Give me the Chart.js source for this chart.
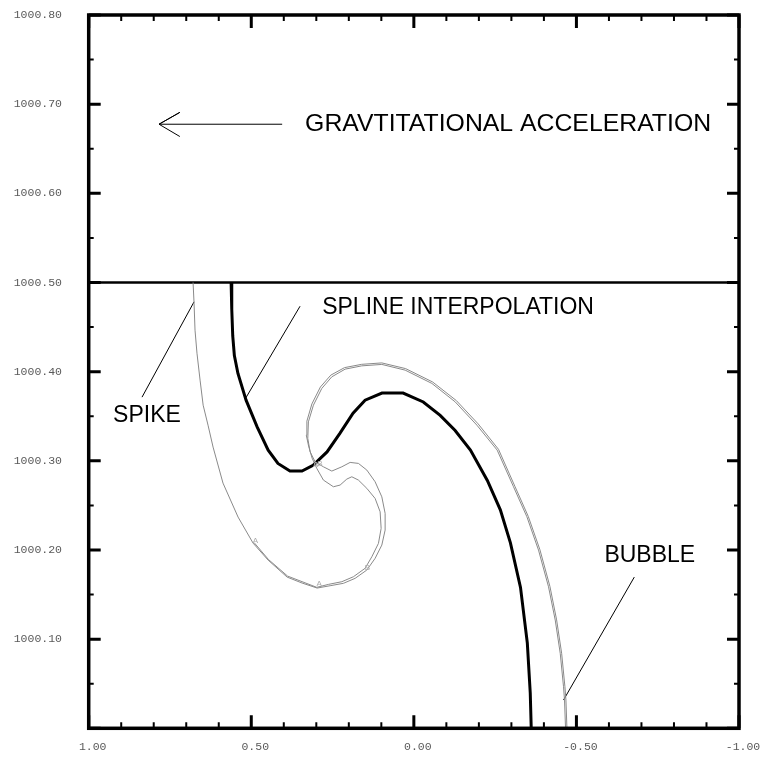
<!DOCTYPE html>
<html>
<head>
<meta charset="utf-8">
<script src="https://cdn.jsdelivr.net/npm/chart.js@4/dist/chart.umd.min.js"></script>
<style>
  html, body { margin: 0; padding: 0; background: #fff; }
  canvas { display: block; }
</style>
</head>
<body>
<canvas id="chart" width="762" height="758"></canvas>
<script>
// axis ticks
const xTickValues = [1, 0.5, 0, -0.5, -1];
const xTickLabels = ['1.00', '0.50', '0.00', '-0.50', '-1.00'];
const yTickValues = [1000.1, 1000.2, 1000.3, 1000.4, 1000.5, 1000.6, 1000.7, 1000.8];
const yTickLabels = ['1000.10', '1000.20', '1000.30', '1000.40', '1000.50', '1000.60', '1000.70', '1000.80'];

// initial flat interface
const interfaceX = [1, -1];
const interfaceY = [1000.5, 1000.5];

// spline interpolated interface (thick black)
const splineX = [0.562, 0.560, 0.557, 0.552, 0.541, 0.516, 0.482, 0.448, 0.418, 0.381, 0.344, 0.310, 0.267, 0.227, 0.187, 0.150, 0.098, 0.033, -0.029, -0.081, -0.127, -0.174, -0.226, -0.266, -0.297, -0.328, -0.349, -0.358, -0.361];
const splineY = [1000.500, 1000.470, 1000.440, 1000.418, 1000.398, 1000.368, 1000.338, 1000.312, 1000.297, 1000.2885, 1000.2885, 1000.295, 1000.310, 1000.331, 1000.3535, 1000.368, 1000.376, 1000.376, 1000.366, 1000.351, 1000.334, 1000.312, 1000.278, 1000.245, 1000.208, 1000.158, 1000.0956, 1000.0396, 1000.0];

// spike / bubble front, outer contour
const frontX = [0.679, 0.676, 0.673, 0.667, 0.6575, 0.648, 0.633, 0.6175, 0.587, 0.5406, 0.4945, 0.4483, 0.3898, 0.3437, 0.2975, 0.2575, 0.2166, 0.1806, 0.1446, 0.1191, 0.0985, 0.0883, 0.0883, 0.0985, 0.1191, 0.1446, 0.1705, 0.196, 0.2215, 0.2523, 0.2782, 0.3037, 0.3191, 0.3262, 0.3243, 0.3089, 0.2831, 0.2523, 0.2114, 0.16, 0.0985, 0.0268, -0.0554, -0.1271, -0.1938, -0.2563, -0.3065, -0.3477, -0.3834, -0.4142, -0.4348, -0.4502, -0.4603, -0.4634, -0.4665];
const frontY = [1000.500, 1000.4768, 1000.4465, 1000.4207, 1000.3905, 1000.3624, 1000.340, 1000.3154, 1000.275, 1000.2369, 1000.2077, 1000.1887, 1000.1696, 1000.1629, 1000.1573, 1000.1599, 1000.1626, 1000.1682, 1000.1775, 1000.1906, 1000.2055, 1000.2223, 1000.2410, 1000.2596, 1000.2765, 1000.2896, 1000.2971, 1000.2982, 1000.2933, 1000.2885, 1000.2933, 1000.2989, 1000.3101, 1000.3251, 1000.3437, 1000.3624, 1000.3812, 1000.3942, 1000.4028, 1000.4065, 1000.4081, 1000.4017, 1000.3868, 1000.3661, 1000.340, 1000.312, 1000.2709, 1000.2372, 1000.1999, 1000.1587, 1000.1214, 1000.0841, 1000.0466, 1000.0317, 1000.0];

// spike / bubble front, inner contour (curl)
const curlX = [0.4914, 0.4468, 0.3883, 0.2985, 0.2628, 0.2215, 0.1858, 0.15, 0.1292, 0.1089, 0.1006, 0.1037, 0.1191, 0.1446, 0.1705, 0.1908, 0.2062, 0.2268, 0.2474, 0.2782, 0.2985, 0.3129, 0.3237, 0.3308, 0.329, 0.3136, 0.2874, 0.2554, 0.2132, 0.1606, 0.0985, 0.0252, -0.0578, -0.1305, -0.1978, -0.2603, -0.3105, -0.3517, -0.3877, -0.4185, -0.4391, -0.4545, -0.4646, -0.4677, -0.4708];
const curlY = [1000.2083, 1000.1892, 1000.1707, 1000.1581, 1000.1614, 1000.1644, 1000.170, 1000.1794, 1000.1924, 1000.2074, 1000.2242, 1000.2428, 1000.2578, 1000.2691, 1000.2784, 1000.2821, 1000.2795, 1000.2728, 1000.2709, 1000.2784, 1000.2915, 1000.3030, 1000.3165, 1000.3288, 1000.3445, 1000.3638, 1000.3828, 1000.3961, 1000.4045, 1000.4082, 1000.4098, 1000.4034, 1000.3884, 1000.3676, 1000.3414, 1000.3129, 1000.2716, 1000.2378, 1000.2003, 1000.1591, 1000.1216, 1000.0842, 1000.0467, 1000.0317, 1000.0];

// leader lines and gravity arrow
const spikeLeaderX = [0.836, 0.676];
const spikeLeaderY = [1000.3714, 1000.4783];
const splineLeaderX = [0.350, 0.519];
const splineLeaderY = [1000.4734, 1000.3692];
const bubbleLeaderX = [-0.678, -0.4603];
const bubbleLeaderY = [1000.1696, 1000.0317];
const arrowX = [0.405, 0.7837, 0.7197, 0.7837, 0.7197];
const arrowY = [1000.6775, 1000.6775, 1000.6908, 1000.6775, 1000.6637];

// text annotations
const labelTexts = ['GRAVTITATIONAL ACCELERATION', 'SPLINE INTERPOLATION', 'SPIKE', 'BUBBLE'];
const labelX = [0.3345, 0.282, 0.925, -0.586];
const labelY = [1000.6775, 1000.4723, 1000.3504, 1000.1932];

// small marker letters along the front
const markerTexts = ['A', 'A', 'B', 'A', 'B'];
const markerX = [0.487, 0.291, 0.143, 0.302, 0.289];
const markerY = [1000.210, 1000.162, 1000.180, 1000.296, 1000.297];

function toPoints(xs, ys) {
    return xs.map((x, i) => ({ x: x, y: ys[i] }));
}

function lineSet(xs, ys, color, width) {
    return {
        data: toPoints(xs, ys),
        showLine: true,
        borderColor: color,
        borderWidth: width,
        pointRadius: 0,
        fill: false,
        tension: 0
    };
}

// frame, ticks, tick labels and text drawn through the chart scales
const decorPlugin = {
    id: 'decor',
    afterDatasetsDraw(chart) {
        const ctx = chart.ctx;
        const xs = chart.scales.x;
        const ys = chart.scales.y;
        const a = chart.chartArea;
        ctx.save();
        ctx.strokeStyle = '#000';
        ctx.lineCap = 'butt';

        // x ticks every 0.1, major every 0.5
        for (let i = -10; i <= 10; i++) {
            const v = i / 10;
            const px = xs.getPixelForValue(v);
            const major = i % 5 === 0;
            const len = major ? 13 : 6;
            ctx.lineWidth = major ? 3 : 2;
            ctx.beginPath();
            ctx.moveTo(px, a.bottom); ctx.lineTo(px, a.bottom - len);
            ctx.moveTo(px, a.top); ctx.lineTo(px, a.top + len);
            ctx.stroke();
        }
        // y ticks every 0.05, major every 0.1
        for (let i = 0; i <= 16; i++) {
            const v = 1000 + i * 0.05;
            const py = ys.getPixelForValue(v);
            const major = i % 2 === 0;
            const len = major ? 12 : 5;
            ctx.lineWidth = major ? 3 : 2;
            ctx.beginPath();
            ctx.moveTo(a.left, py); ctx.lineTo(a.left + len, py);
            ctx.moveTo(a.right, py); ctx.lineTo(a.right - len, py);
            ctx.stroke();
        }
        // frame
        ctx.lineWidth = 3.5;
        ctx.strokeRect(a.left, a.top, a.right - a.left, a.bottom - a.top);

        // tick labels
        ctx.fillStyle = '#5a5a5a';
        ctx.font = '11.5px "Liberation Mono", "DejaVu Sans Mono", monospace';
        ctx.textAlign = 'center';
        ctx.textBaseline = 'middle';
        xTickValues.forEach((v, i) => {
            ctx.fillText(xTickLabels[i], xs.getPixelForValue(v) + 4, a.bottom + 19);
        });
        ctx.textAlign = 'right';
        yTickValues.forEach((v, i) => {
            ctx.fillText(yTickLabels[i], 62, ys.getPixelForValue(v));
        });

        // annotations (the title line is set a little larger)
        ctx.fillStyle = '#000';
        ctx.textAlign = 'left';
        labelTexts.forEach((t, i) => {
            const size = i === 0 ? 24.8 : 23;
            ctx.font = size + 'px "Liberation Sans", Arial, sans-serif';
            ctx.fillText(t, xs.getPixelForValue(labelX[i]), ys.getPixelForValue(labelY[i]));
        });

        ctx.fillStyle = '#aaa';
        ctx.font = '8px "Liberation Sans", Arial, sans-serif';
        ctx.textAlign = 'center';
        markerTexts.forEach((t, i) => {
            ctx.fillText(t, xs.getPixelForValue(markerX[i]), ys.getPixelForValue(markerY[i]));
        });
        ctx.restore();
    }
};

const ctx = document.getElementById('chart').getContext('2d');
const chart = new Chart(ctx, {
    type: 'scatter',
    data: {
        datasets: [
            lineSet(frontX, frontY, '#8a8a8a', 1),
            lineSet(curlX, curlY, '#8a8a8a', 1),
            lineSet(interfaceX, interfaceY, '#000', 2.5),
            lineSet(splineX, splineY, '#000', 3),
            lineSet(spikeLeaderX, spikeLeaderY, '#000', 1),
            lineSet(splineLeaderX, splineLeaderY, '#000', 1),
            lineSet(bubbleLeaderX, bubbleLeaderY, '#000', 1),
            lineSet(arrowX, arrowY, '#000', 1)
        ]
    },
    options: {
        responsive: false,
        animation: false,
        layout: { padding: { left: 88.7, right: 23, top: 15, bottom: 29.7 } },
        scales: {
            x: { type: 'linear', min: -1, max: 1, reverse: true, display: false },
            y: { type: 'linear', min: 1000, max: 1000.8, display: false }
        },
        plugins: {
            legend: { display: false },
            tooltip: { enabled: false }
        }
    },
    plugins: [decorPlugin]
});
</script>
</body>
</html>
